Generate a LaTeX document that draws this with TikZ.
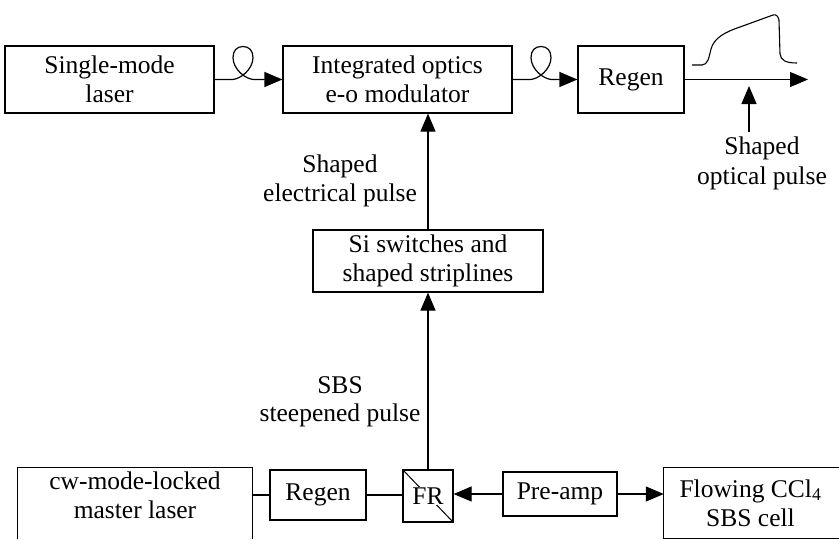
\documentclass[tikz,border=0pt]{standalone}
\usepackage{fontspec}
\setmainfont{Liberation Serif}
\usetikzlibrary{arrows.meta}
\begin{document}
\begin{tikzpicture}[x=1pt,y=-1pt,
  every node/.style={font=\fontsize{25.5}{29}\selectfont},
  box/.style={draw, line width=1.2pt, inner sep=0pt, align=center},
  lbl/.style={inner sep=0pt, anchor=base},
  arr/.style={line width=1.2pt, -{Triangle[length=18pt,width=15pt]}},
  ln/.style={line width=1.2pt}]
\useasboundingbox (0,0) rectangle (839,539);

% top row
\node[box, minimum width=209pt, minimum height=67pt] (laser) at (109.5,79.5) {Single-mode\\laser};
\node[box, minimum width=229pt, minimum height=67pt] (mod) at (397.5,79.5) {Integrated optics\\e-o modulator};
\node[box, minimum width=106pt, minimum height=67pt] (regenA) at (631,79.5) {Regen};

% fibre loops
\draw[arr] (laser.east) -- (232,79.5) .. controls (240,79.5) and (253,69.5) .. (253,57.5)
  .. controls (253,50.5) and (249,46.5) .. (243,46.5)
  .. controls (237,46.5) and (233,50.5) .. (233,57.5)
  .. controls (233,69.5) and (246,79.5) .. (254,79.5) -- (mod.west);
\draw[arr] (mod.east) -- (530,79.5) .. controls (538,79.5) and (551,69.5) .. (551,57.5)
  .. controls (551,50.5) and (547,46.5) .. (541,46.5)
  .. controls (535,46.5) and (531,50.5) .. (531,57.5)
  .. controls (531,69.5) and (544,79.5) .. (552,79.5) -- (regenA.west);

% output and pulse
\coordinate (outend) at (808,79.5);
\draw[arr] (regenA.east) -- (outend);
\draw[line width=1.1pt] (692,65) -- (702,65) .. controls (708,65) and (709,57) .. (711,49)
  .. controls (714,38) and (725,32) .. (740,27) -- (773,15)
  .. controls (776,14) and (778,16) .. (779,20) -- (780,54)
  .. controls (781,60) and (785,63) .. (797,63);
\coordinate (upbot) at (749,132);
\coordinate (uptop) at (749,86);
\draw[arr] (upbot) -- (uptop);
\node[lbl] (l5) at (762,154) {Shaped};
\node[lbl] (l6) at (762,184) {optical pulse};

% middle
\node[box, minimum width=230pt, minimum height=62pt] (si) at (428,261) {Si switches and\\shaped striplines};
\node[lbl] (l1) at (340,172) {Shaped};
\node[lbl] (l2) at (340,201) {electrical pulse};
\node[lbl] (l3) at (340,393) {SBS};
\node[lbl] (l4) at (340,421) {steepened pulse};

% bottom row
\node[inner sep=0pt, minimum width=234pt, minimum height=54pt, align=center] (cw) at (135,495) {cw-mode-locked\\master laser};
\draw[ln] (cw.west |- 0,539) -- (cw.north west) -- (cw.north east) -- (cw.east |- 0,539);
\node[box, minimum width=96pt, minimum height=50pt] (regenB) at (318,495) {Regen};
\node[box, minimum width=50pt, minimum height=52pt] (fr) at (428,496) {};
\draw[line width=1pt] (fr.north west) -- (fr.south east);
\node[fill=white, inner sep=1pt] (frt) at (fr.center) {FR};
\node[box, minimum width=114pt, minimum height=44pt] (pre) at (560,494) {Pre-amp};
\node[inner sep=0pt, minimum width=173pt, minimum height=70pt, align=center] (flow) at (750.5,503) {Flowing CCl\textsubscript{4}\\SBS cell};
\draw[ln] (flow.north west -| 839,0) -- (flow.north west) -- (flow.south west) -- (flow.south west -| 839,0);

\draw[ln] (cw.east |- regenB.west) -- (regenB.west);
\draw[ln] (regenB.east) -- (regenB.east -| fr.west);
\draw[arr] (pre.west) -- (pre.west -| fr.east);
\draw[arr] (pre.east) -- (pre.east -| flow.west);
\draw[arr] (fr.north) -- (si.south);
\draw[arr] (si.north) -- (si.north |- mod.south);
\end{tikzpicture}
\end{document}
